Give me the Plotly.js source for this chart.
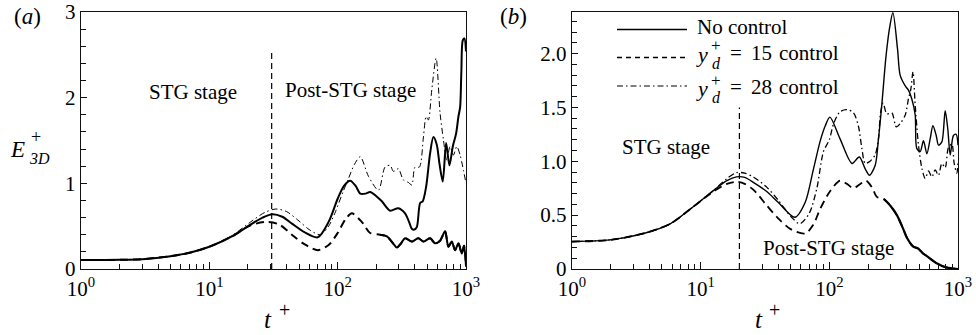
<!DOCTYPE html>
<html><head><meta charset="utf-8">
<script src="https://cdn.plot.ly/plotly-3.0.1.min.js"></script>
<style>html,body{margin:0;padding:0;background:#fff}#chart{width:976px;height:335px}</style>
</head><body><div id="chart"></div>
<script>
// ---------- Panel (a) data ----------
const a_t_nc = [1,2,3,5,7,10,15,21,26,31,37,44,55,70,85,100,112,125,138,150,165,179,200,221,256,297,335,360,378,395,414,439,460,489,525,557,592,621,659,700,743,789,837,873,900,920,944,972,1000];
const a_e_nc = [0.105,0.107,0.115,0.15,0.19,0.26,0.38,0.52,0.60,0.64,0.61,0.53,0.43,0.37,0.55,0.82,0.97,1.03,0.97,0.88,0.88,0.90,0.85,0.79,0.68,0.71,0.65,0.55,0.47,0.46,0.49,0.77,0.79,0.96,1.35,1.54,1.45,1.23,1.02,1.47,1.21,1.43,1.58,1.78,1.89,2.30,2.67,2.69,2.54];

const a_t_15 = [1,2,3,5,7,10,15,21,28,35,44,55,70,85,100,115,129,154,179,214,242,270,289,312,335,378,425,466,525,574,628,687,729,775,822,873,927,966,1000];
const a_e_15 = [0.105,0.107,0.115,0.15,0.19,0.26,0.38,0.51,0.55,0.52,0.40,0.29,0.22,0.28,0.42,0.58,0.65,0.55,0.42,0.40,0.38,0.30,0.25,0.30,0.36,0.32,0.36,0.32,0.36,0.30,0.33,0.44,0.26,0.32,0.22,0.30,0.18,0.27,0.03];

const a_t_28 = [1,2,3,5,7,10,15,21,27,33,40,50,60,73,85,95,110,121,135,150,174,208,234,256,272,297,325,356,378,401,433,466,489,509,541,585,628,667,708,751,798,848,900,944,1000];
const a_e_28 = [0.105,0.107,0.115,0.15,0.19,0.26,0.39,0.55,0.66,0.70,0.67,0.56,0.46,0.40,0.50,0.65,0.90,1.05,1.22,1.31,1.08,0.92,1.19,1.21,1.14,1.17,1.04,1.01,0.98,1.19,1.19,1.54,1.78,1.74,2.09,2.46,1.82,1.51,1.27,1.43,1.33,1.43,1.33,1.19,1.00];

// ---------- Panel (b) data ----------
const b_t_nc = [1,1.97,3.6,5.8,8.8,12.6,16,19,22,26,32.6,40,54,65,75,85,93,101,121,150,171,190,205,227,241,256,276,295,312,339,355,389,412,437,465,478,508,539,573,608,638,677,705,749,795,833,870,922,968,1000];
const b_e_nc = [0.255,0.27,0.33,0.42,0.58,0.73,0.82,0.855,0.85,0.80,0.72,0.62,0.48,0.62,0.92,1.19,1.33,1.41,1.21,0.98,1.04,0.93,0.87,0.96,1.21,1.53,1.98,2.25,2.38,2.04,1.80,1.70,1.66,1.58,1.43,1.12,1.09,1.19,1.07,1.21,1.33,1.24,1.15,1.18,1.47,1.30,1.06,1.24,1.25,1.15];

const b_t_15 = [1,1.97,3.6,5.8,8.8,12.6,16,19,22,26,32.6,40,50,65,75,85,101,121,137,154,174,193,214,234,265,297,335,373,401,447,490,540,573,677,810,1000];
const b_e_15 = [0.255,0.27,0.33,0.42,0.58,0.72,0.79,0.81,0.79,0.73,0.59,0.47,0.37,0.33,0.41,0.56,0.72,0.82,0.79,0.75,0.79,0.82,0.76,0.67,0.65,0.59,0.50,0.38,0.29,0.21,0.19,0.14,0.12,0.056,0.015,0.0];

const b_t_28 = [1,1.97,3.6,5.8,8.8,12.6,16,19,22,26,32.6,40,50,59,70,80,90,100,108,121,137,154,168,179,190,207,227,241,250,262,280,306,331,355,389,412,430,447,465,493,525,556,590,627,665,705,749,795,843,896,934,980,1000];
const b_e_28 = [0.255,0.27,0.33,0.42,0.58,0.73,0.84,0.895,0.89,0.85,0.76,0.64,0.49,0.42,0.52,0.75,1.09,1.20,1.35,1.46,1.48,1.45,1.33,1.12,0.98,1.00,1.06,1.21,1.45,1.54,1.44,1.45,1.32,1.35,1.43,1.58,1.67,1.83,1.52,1.15,0.93,0.84,0.91,0.855,0.92,0.87,0.98,0.94,1.13,1.16,0.98,0.89,1.00];

// stage boundaries and their marker heights
const stageA = 30.6, stageA_top = 2.53;
const stageB = 20,   stageB_top = 1.50;

// tick labels
const xTickVals = [1,10,100,1000];
const xTickText = ['10<sup>0</sup>','10<sup>1</sup>','10<sup>2</sup>','10<sup>3</sup>'];
const xMinorVals = [2,3,4,5,6,7,8,9,20,30,40,50,60,70,80,90,200,300,400,500,600,700,800,900];
const yTickValsA = [0,1,2,3];
const yTickTextA = ['0','1','2','3'];
const yTickValsB = [0,0.5,1.0,1.5,2.0];
const yTickTextB = ['0','0.5','1.0','1.5','2.0'];

// ---------- styling / layout ----------
const W = 976, H = 335;
const PX = x => x / W, PY = y => 1 - y / H;
const FONT = 'Liberation Serif';
const K = '#000';
const DASH = '8px,5px';
const DASHDOT = '6px,3px,1.5px,3px';

function sliceFrom(t, e, t0) {
  const i = t.findIndex(v => v >= t0);
  return {x: t.slice(i), y: e.slice(i)};
}
const sp = {shape: 'spline', smoothing: 0.8};

const a15late = sliceFrom(a_t_15, a_e_15, 190);
const b15late = sliceFrom(b_t_15, b_e_15, 260);

const traces = [
  // panel a
  {x: [stageA, stageA], y: [0, stageA_top], xaxis: 'x', yaxis: 'y', mode: 'lines', line: {color: K, width: 1.2, dash: '6px,4px'}},
  {x: a_t_28, y: a_e_28, xaxis: 'x', yaxis: 'y', mode: 'lines', line: Object.assign({color: K, width: 1, dash: DASHDOT}, sp)},
  {x: a_t_15, y: a_e_15, xaxis: 'x', yaxis: 'y', mode: 'lines', line: Object.assign({color: K, width: 2, dash: DASH}, sp)},
  {x: a15late.x, y: a15late.y, xaxis: 'x', yaxis: 'y', mode: 'lines', line: Object.assign({color: K, width: 2}, sp)},
  {x: a_t_nc, y: a_e_nc, xaxis: 'x', yaxis: 'y', mode: 'lines', line: Object.assign({color: K, width: 2}, sp)},
  // panel b
  {x: [stageB, stageB], y: [0, stageB_top], xaxis: 'x2', yaxis: 'y2', mode: 'lines', line: {color: K, width: 1.2, dash: '6px,4px'}},
  {x: b_t_28, y: b_e_28, xaxis: 'x2', yaxis: 'y2', mode: 'lines', line: Object.assign({color: K, width: 1.3, dash: DASHDOT}, sp)},
  {x: b_t_15, y: b_e_15, xaxis: 'x2', yaxis: 'y2', mode: 'lines', line: Object.assign({color: K, width: 1.8, dash: DASH}, sp)},
  {x: b15late.x, y: b15late.y, xaxis: 'x2', yaxis: 'y2', mode: 'lines', line: Object.assign({color: K, width: 2.2}, sp)},
  {x: b_t_nc, y: b_e_nc, xaxis: 'x2', yaxis: 'y2', mode: 'lines', line: Object.assign({color: K, width: 1.4}, sp)}
];

function xAxis(d0, d1, anchor) {
  return {
    domain: [d0, d1], anchor: anchor, type: 'log', range: [0, 3],
    showline: true, linecolor: '#111', linewidth: 1.4, mirror: true,
    showgrid: false, zeroline: false, automargin: false,
    ticks: 'inside', ticklen: 7, tickwidth: 1, tickcolor: '#111',
    tickmode: 'array', tickvals: xTickVals, ticktext: xTickText,
    tickfont: {family: FONT, size: 21, color: K},
    minor: {ticks: 'inside', ticklen: 5, tickwidth: 1, tickcolor: '#111', tickmode: 'array', tickvals: xMinorVals, showgrid: false}
  };
}
function yAxis(range, vals, text, minor, anchor) {
  return {
    domain: [PY(269), PY(12)], anchor: anchor, range: range,
    showline: true, linecolor: '#111', linewidth: 1.4, mirror: true,
    showgrid: false, zeroline: false, automargin: false,
    ticks: 'inside', ticklen: 6, tickwidth: 1, tickcolor: '#111',
    tickmode: 'array', tickvals: vals, ticktext: text,
    tickfont: {family: FONT, size: 21, color: K},
    minor: {ticks: 'inside', ticklen: 5, tickwidth: 1, tickcolor: '#111', dtick: minor, showgrid: false}
  };
}

function txt(text, x, y, size, opts) {
  return Object.assign({xref: 'paper', yref: 'paper', x: PX(x), y: PY(y), text: text, showarrow: false,
    xanchor: 'center', yanchor: 'middle', borderpad: 0, font: {family: FONT, size: size, color: K}}, opts || {});
}

function legendRow(y, num) {
  return [
    txt('<i>y</i>', 695, y + 1, 22, {xanchor: 'left'}),
    txt('+', 716, y - 7, 17),
    txt('<i>d</i>', 716, y + 10, 16),
    txt('=', 736, y, 21),
    txt(num, 761, y, 21),
    txt('control', 778, y, 21, {xanchor: 'left'})
  ];
}

const ann = [
  txt('(<i>a</i>)', 27, 17, 23),
  txt('(<i>b</i>)', 513, 17, 23),
  txt('STG stage', 193, 92, 21),
  txt('Post-STG stage', 350, 90, 21),
  txt('STG stage', 666, 147, 21),
  txt('Post-STG stage', 828, 248, 21),
  // y-axis title E_3D^+
  txt('<i>E</i>', 17.5, 149, 23),
  txt('+', 36, 137, 18),
  txt('<i>3D</i>', 39, 158, 16),
  // x-axis titles t^+
  txt('<i>t</i>', 268, 319, 25),
  txt('+', 284, 310, 20),
  txt('<i>t</i>', 759, 319, 25),
  txt('+', 774, 310, 20),
  // legend text
  txt('No control', 696, 27, 21, {xanchor: 'left'})
].concat(legendRow(53, '15'), legendRow(87, '28'));

function lgLine(y, dash, width) {
  return {type: 'line', xref: 'paper', yref: 'paper', x0: PX(617), x1: PX(687), y0: PY(y), y1: PY(y),
    line: {color: K, width: width, dash: dash}};
}

const layout = {
  width: W, height: H, margin: {l: 0, r: 0, t: 0, b: 0},
  paper_bgcolor: '#fff', plot_bgcolor: '#fff', showlegend: false,
  font: {family: FONT, color: K},
  xaxis: xAxis(PX(81), PX(466), 'y'),
  yaxis: yAxis([0, 3], yTickValsA, yTickTextA, 0.2, 'x'),
  xaxis2: xAxis(PX(572), PX(958), 'y2'),
  yaxis2: yAxis([0, 2.386], yTickValsB, yTickTextB, 0.1, 'x2'),
  annotations: ann,
  shapes: [lgLine(29.5, 'solid', 1.4), lgLine(57.5, '5px,4px', 1.3), lgLine(86, DASHDOT, 1.2)]
};

Plotly.newPlot('chart', traces, layout, {staticPlot: true, displayModeBar: false});
</script></body></html>
